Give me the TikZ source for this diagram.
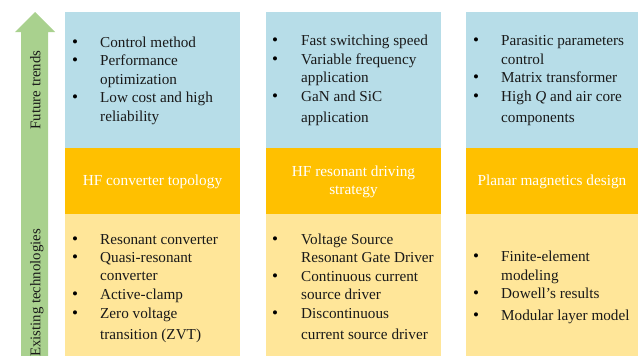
\documentclass[tikz,border=0pt]{standalone}
\usepackage{fontspec}
\setmainfont{Liberation Serif}
\definecolor{tblue}{HTML}{B7DDE8}
\definecolor{torange}{HTML}{FFC000}
\definecolor{tyellow}{HTML}{FFE699}
\definecolor{tgreen}{HTML}{A9D18E}
\begin{document}
\begin{tikzpicture}[x=1pt,y=-1pt,
  box/.style={draw=none,inner sep=0pt,outer sep=0pt,anchor=north west},
  txt/.style={anchor=west,inner sep=0pt,font=\fontsize{15.2}{17}\selectfont,text=black!90},
  bul/.style={anchor=center,inner sep=0pt,font=\fontsize{17}{18}\selectfont},
  head/.style={anchor=center,inner sep=0pt,align=center,text=white,font=\fontsize{15.3}{18.5}\selectfont},
  side/.style={anchor=center,inner sep=0pt,rotate=90,font=\fontsize{14.8}{17}\selectfont,text=black!90}]
\useasboundingbox (0,0) rectangle (638,356);
% arrow
\fill[tgreen] (21,357) -- (21,32) -- (15,32) -- (35,12) -- (55,32) -- (48,32) -- (48,357) -- cycle;
\node[side] (ft) at (37,90) {Future trends\strut};
\node[side] (et) at (37,293) {Existing technologies\strut};
% boxes
\foreach \c/\x/\w in {1/65/175, 2/266/175, 3/466/172}{
  \node[box,fill=tblue,minimum width=\w pt,minimum height=136pt] (b\c) at (\x,12) {};
  \node[box,fill=torange,minimum width=\w pt,minimum height=66pt] (o\c) at (\x,148) {};
  \node[box,fill=tyellow,minimum width=\w pt,minimum height=143pt] (y\c) at (\x,214) {};
}
% headers
\node[head] (h1) at (152.5,182) {HF converter topology\strut};
\node[head] (h2) at (353.5,182) {HF resonant driving\\strategy};
\node[head] (h3) at (552,182) {Planar magnetics design\strut};
% column 1 top
\node[bul] (b1a) at (75,44) {\textbullet};
\node[txt] (t1a) at (100,44) {Control method\strut};
\node[bul] (b1b) at (75,62) {\textbullet};
\node[txt] (t1b) at (100,62) {Performance\strut};
\node[txt] (t1c) at (100,81) {optimization\strut};
\node[bul] (b1d) at (75,99) {\textbullet};
\node[txt] (t1d) at (100,99) {Low cost and high\strut};
\node[txt] (t1e) at (100,118) {reliability\strut};
% column 1 bottom
\node[bul] (b1f) at (75,241) {\textbullet};
\node[txt] (t1f) at (100,241) {Resonant converter\strut};
\node[bul] (b1g) at (75,259) {\textbullet};
\node[txt] (t1g) at (100,259) {Quasi-resonant\strut};
\node[txt] (t1h) at (100,277) {converter\strut};
\node[bul] (b1i) at (75,296) {\textbullet};
\node[txt] (t1i) at (100,296) {Active-clamp\strut};
\node[bul] (b1j) at (75,315) {\textbullet};
\node[txt] (t1j) at (100,315) {Zero voltage\strut};
\node[txt] (t1k) at (100,336) {transition (ZVT)\strut};
% column 2 top
\node[bul] (b2a) at (275,42) {\textbullet};
\node[txt] (t2a) at (301,42) {Fast switching speed\strut};
\node[bul] (b2b) at (275,61) {\textbullet};
\node[txt] (t2b) at (301,61) {Variable frequency\strut};
\node[txt] (t2c) at (301,79) {application\strut};
\node[bul] (b2d) at (275,98) {\textbullet};
\node[txt] (t2d) at (301,98) {GaN and SiC\strut};
\node[txt] (t2e) at (301,119) {application\strut};
% column 2 bottom
\node[bul] (b2f) at (275,241) {\textbullet};
\node[txt] (t2f) at (301,241) {Voltage Source\strut};
\node[txt] (t2g) at (301,259) {Resonant Gate Driver\strut};
\node[bul] (b2h) at (275,278) {\textbullet};
\node[txt] (t2h) at (301,278) {Continuous current\strut};
\node[txt] (t2i) at (301,296) {source driver\strut};
\node[bul] (b2j) at (275,315) {\textbullet};
\node[txt] (t2j) at (301,315) {Discontinuous\strut};
\node[txt] (t2k) at (301,336) {current source driver\strut};
% column 3 top
\node[bul] (b3a) at (476,42) {\textbullet};
\node[txt] (t3a) at (501,42) {Parasitic parameters\strut};
\node[txt] (t3b) at (501,61) {control\strut};
\node[bul] (b3c) at (476,79) {\textbullet};
\node[txt] (t3c) at (501,79) {Matrix transformer\strut};
\node[bul] (b3d) at (476,98) {\textbullet};
\node[txt] (t3d) at (501,98) {High \textit{Q} and air core\strut};
\node[txt] (t3e) at (501,119) {components\strut};
% column 3 bottom
\node[bul] (b3f) at (476,258) {\textbullet};
\node[txt] (t3f) at (501,258) {Finite-element\strut};
\node[txt] (t3g) at (501,277) {modeling\strut};
\node[bul] (b3h) at (476,295) {\textbullet};
\node[txt] (t3h) at (501,295) {Dowell’s results\strut};
\node[bul] (b3i) at (476,317) {\textbullet};
\node[txt] (t3i) at (501,317) {Modular layer model\strut};
\end{tikzpicture}
\end{document}
